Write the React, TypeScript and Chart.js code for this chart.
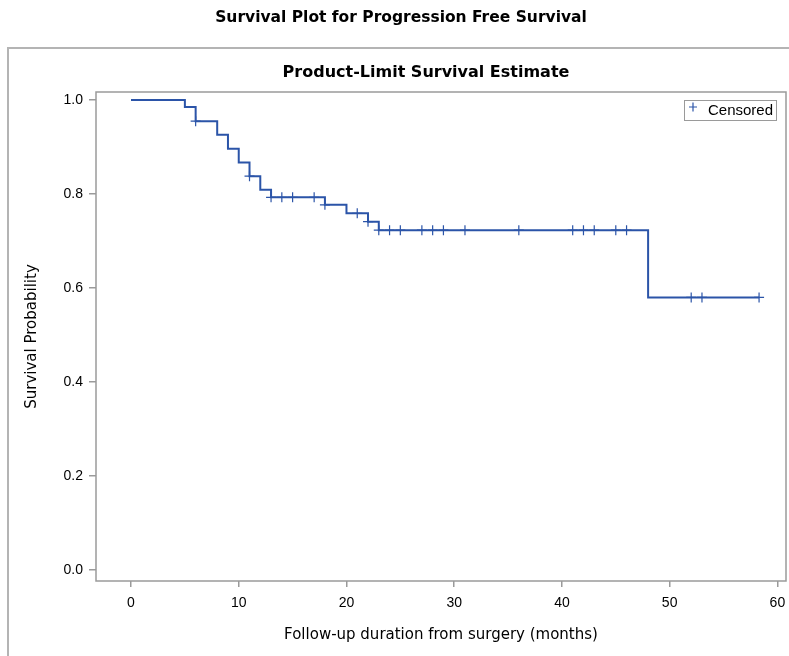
import { useEffect, useRef } from "react";
import { Chart, registerables } from "chart.js";

Chart.register(...registerables);

// Kaplan-Meier step estimate (time in months, survival probability after event)
const eventTimes = [0, 5, 6, 8, 9, 10, 11, 12, 13, 18, 20, 22, 23, 48, 58.3];
const survival = [1.0, 0.985, 0.955, 0.926, 0.896, 0.867, 0.838, 0.809, 0.793, 0.777, 0.759, 0.741, 0.723, 0.58, 0.58];
// Censored observation times
const censorTimes = [6, 11, 13, 14, 15, 17, 18, 21, 22, 23, 24, 25, 27, 28, 29, 31, 36, 41, 42, 43, 45, 46, 52, 53, 58.3];
const xTicks = [0, 10, 20, 30, 40, 50, 60];
const yTicks = [0, 0.2, 0.4, 0.6, 0.8, 1.0];

const mainTitle = "Survival Plot for Progression Free Survival";
const subTitle = "Product-Limit Survival Estimate";
const xTitle = "Follow-up duration from surgery (months)";
const yTitle = "Survival Probability";
const censorLabel = "Censored";

const BLUE = "#2b54a8";
const FONT = "'Liberation Sans', Arial, sans-serif";
const TFONT = "'DejaVu Sans', Verdana, sans-serif";

function survivalAt(t: number): number {
  let v = survival[0];
  for (let i = 0; i < eventTimes.length; i++) {
    if (eventTimes[i] <= t) v = survival[i];
  }
  return v;
}

const decorPlugin = {
  id: "decor",
  beforeDraw(chart: any) {
    const ctx = chart.ctx;
    ctx.save();
    ctx.fillStyle = "#ffffff";
    ctx.fillRect(0, 0, chart.width, chart.height);
    // outer frame
    ctx.strokeStyle = "#b4b4b4";
    ctx.lineWidth = 2;
    ctx.beginPath();
    ctx.moveTo(8, chart.height + 2);
    ctx.lineTo(8, 48);
    ctx.lineTo(chart.width + 2, 48);
    ctx.stroke();
    // titles
    ctx.fillStyle = "#000000";
    ctx.textAlign = "center";
    ctx.textBaseline = "middle";
    ctx.font = `bold 15.5px ${TFONT}`;
    ctx.fillText(mainTitle, 401, 18);
    ctx.font = `bold 16px ${TFONT}`;
    ctx.fillText(subTitle, 426, 73);
    ctx.restore();
  },
  afterDatasetsDraw(chart: any) {
    const ctx = chart.ctx;
    const a = chart.chartArea;
    ctx.save();
    // plot border
    ctx.strokeStyle = "#9a9a9a";
    ctx.lineWidth = 1.5;
    ctx.strokeRect(a.left, a.top, a.right - a.left, a.bottom - a.top);
    // inset legend
    const bx = a.right - 102, by = a.top + 8, bw = 92, bh = 20;
    ctx.fillStyle = "#ffffff";
    ctx.fillRect(bx, by, bw, bh);
    ctx.strokeStyle = "#9a9a9a";
    ctx.lineWidth = 1;
    ctx.strokeRect(bx + 0.5, by + 0.5, bw, bh);
    ctx.strokeStyle = BLUE;
    ctx.lineWidth = 1.2;
    const cx = bx + 9, cy = by + 7;
    ctx.beginPath();
    ctx.moveTo(cx - 4, cy);
    ctx.lineTo(cx + 4, cy);
    ctx.moveTo(cx, cy - 4.5);
    ctx.lineTo(cx, cy + 4.5);
    ctx.stroke();
    ctx.fillStyle = "#000000";
    ctx.font = `15px ${FONT}`;
    ctx.textAlign = "left";
    ctx.textBaseline = "middle";
    ctx.fillText(censorLabel, bx + 24, by + bh / 2 + 1);
    ctx.restore();
  },
};

export default function App() {
  const ref = useRef<HTMLCanvasElement | null>(null);
  useEffect(() => {
    if (!ref.current) return;
    const stepData = eventTimes.map((t, i) => ({ x: t, y: survival[i] }));
    const censorData = censorTimes.map((t) => ({ x: t, y: survivalAt(t) }));
    const chart = new Chart(ref.current, {
      type: "line",
      data: {
        datasets: [
          {
            label: "Survival",
            data: stepData,
            stepped: "before",
            borderColor: BLUE,
            borderWidth: 2,
            pointRadius: 0,
            fill: false,
          },
          {
            label: censorLabel,
            data: censorData,
            showLine: false,
            pointStyle: "cross",
            pointRadius: 5,
            pointHoverRadius: 5,
            pointBorderWidth: 1.2,
            pointBorderColor: BLUE,
            borderColor: BLUE,
          },
        ],
      },
      options: {
        responsive: false,
        animation: false,
        layout: { autoPadding: false, padding: { left: 8, top: 92, right: 3, bottom: 0 } },
        plugins: {
          legend: { display: false },
          title: { display: false },
          tooltip: { enabled: false },
        },
        scales: {
          x: {
            type: "linear",
            min: -3.25,
            max: 60.8,
            afterFit: (s: any) => {
              s.height = 75;
              s.paddingLeft = 0;
              s.paddingRight = 0;
            },
            afterBuildTicks: (s: any) => {
              s.ticks = xTicks.map((v) => ({ value: v }));
            },
            ticks: {
              color: "#000000",
              font: { family: FONT, size: 14 },
              padding: 8,
              maxRotation: 0,
            },
            grid: {
              drawOnChartArea: false,
              drawTicks: true,
              tickLength: 6,
              color: "#9a9a9a",
              lineWidth: 1.5,
            },
            border: { display: false },
            title: {
              display: true,
              text: xTitle,
              color: "#000000",
              font: { family: TFONT, size: 15 },
              padding: { top: 0, bottom: 12 },
            },
          },
          y: {
            type: "linear",
            min: -0.0234,
            max: 1.017,
            afterFit: (s: any) => {
              s.width = 88;
              s.paddingTop = 0;
              s.paddingBottom = 0;
            },
            afterBuildTicks: (s: any) => {
              s.ticks = yTicks.map((v) => ({ value: v }));
            },
            ticks: {
              color: "#000000",
              font: { family: FONT, size: 14 },
              padding: 6,
              callback: (v: any) => Number(v).toFixed(1),
            },
            grid: {
              drawOnChartArea: false,
              drawTicks: true,
              tickLength: 7,
              color: "#9a9a9a",
              lineWidth: 1.5,
            },
            border: { display: false },
            title: {
              display: true,
              text: yTitle,
              color: "#000000",
              font: { family: TFONT, size: 15 },
              padding: { top: 15, bottom: 0 },
            },
          },
        },
      },
      plugins: [decorPlugin],
    });
    return () => chart.destroy();
  }, []);
  return (
    <div style={{ position: "absolute", left: 0, top: 0, width: 789, height: 656 }}>
      <canvas ref={ref} width={789} height={656} style={{ display: "block" }} />
    </div>
  );
}
